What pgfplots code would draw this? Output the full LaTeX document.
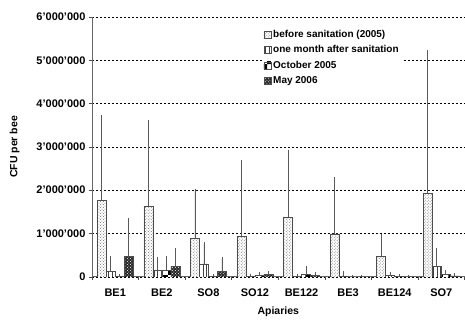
\documentclass[border=0pt]{standalone}
\usepackage{pgfplots}
\pgfplotsset{compat=1.18}
\usepackage{pgfplotstable}
\usetikzlibrary{patterns,patterns.meta}
\usepackage{fontspec}
\setmainfont{Liberation Sans}

\pgfplotstableread{
x before ebefore month emonth oct eoct may emay
0 1.76 1.92 0.12 0.31 0.01 0.00 0.47 0.83
1 1.64 1.93 0.15 0.27 0.15 0.28 0.24 0.38
2 0.90 1.08 0.30 0.45 0.01 0.00 0.13 0.29
3 0.93 1.73 0.01 0.01 0.03 0.03 0.05 0.04
4 1.37 1.52 0.01 0.01 0.05 0.15 0.03 0.03
5 0.99 1.26 0.02 0.07 0.00 0.00 0.00 0.00
6 0.47 0.47 0.03 0.03 0.01 0.00 0.00 0.00
7 1.93 3.25 0.24 0.37 0.05 0.05 0.02 0.02
}\data

\begin{document}
\begin{tikzpicture}[font=\bfseries]
\begin{axis}[
  width=373pt, height=260pt, scale only axis,
  ybar=0pt, bar width=9pt,
  xmin=-0.5, xmax=7.5, ymin=0, ymax=6,
  axis x line*=bottom, axis y line*=left,
  axis line style={black!60, line width=0.8pt},
  xtick={0,...,7},
  xticklabels={BE1,BE2,SO8,SO12,BE122,BE3,BE124,SO7},
  major x tick style={draw=none},
  minor xtick={-0.5,0.5,...,7.5},
  minor x tick style={black!70, line width=0.6pt},
  minor tick length=3pt,
  tick align=outside,
  ytick={0,1,2,3,4,5,6},
  yticklabels={0,1'000'000,2'000'000,3'000'000,4'000'000,5'000'000,6'000'000},
  major tick length=3pt,
  y tick style={black!70},
  ticklabel style={font=\fontsize{11}{13}\bfseries},
  xticklabel style={yshift=-6pt, font=\fontsize{11}{13}\bfseries},
  ymajorgrids, grid style={black, dash pattern=on 2pt off 2pt, line width=0.5pt},
  xlabel={Apiaries}, ylabel={CFU per bee},
  label style={font=\fontsize{10.5}{12}\bfseries},
  xlabel style={yshift=-3pt},
  ylabel style={yshift=10pt},
  legend style={at={(0.455,0.965)}, anchor=north west, draw=none, fill=white,
    font=\fontsize{10}{12}\bfseries, row sep=2.6pt, inner sep=2pt},
  legend cell align=left,
  legend image code/.code={\draw[#1] (0pt,-3.5pt) rectangle (7pt,3.5pt);},
  every axis plot/.append style={draw=black!70, line width=0.5pt},
  error bars/y dir=plus, error bars/y explicit,
  error bars/error bar style={black!65, line width=0.7pt},
  error bars/error mark options={black!65, line width=0.7pt, mark size=2pt},
]
\addplot[fill=white, postaction={pattern=crosshatch dots, pattern color=black!55}]
  table[x=x, y=before, y error=ebefore] {\data};
\addplot[fill=white, postaction={pattern={Lines[angle=90, distance=3.5pt, line width=0.6pt]}, pattern color=black!75}]
  table[x=x, y=month, y error=emonth] {\data};
\addplot[fill=white, postaction={pattern=checkerboard, pattern color=black}]
  table[x=x, y=oct, y error=eoct] {\data};
\addplot[fill=black!85, postaction={pattern=crosshatch dots, pattern color=white}]
  table[x=x, y=may, y error=emay] {\data};
\legend{before sanitation (2005),one month after sanitation,October 2005,May 2006}
\end{axis}
\path ([shift={(-92pt,-39pt)}]current axis.south west) rectangle ([shift={(0pt,17pt)}]current axis.north east);
\end{tikzpicture}
\end{document}
